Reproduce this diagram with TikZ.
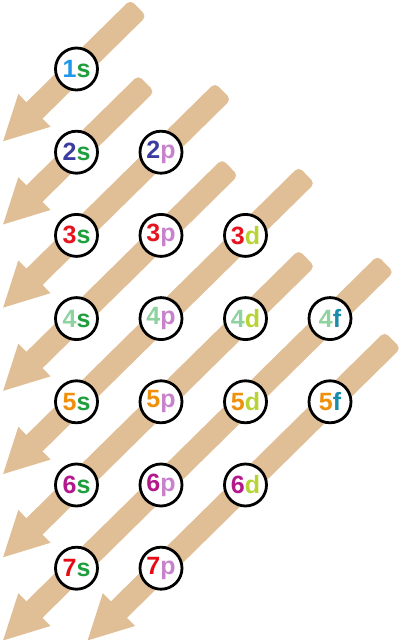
\documentclass[tikz,border=0pt]{standalone}
\usepackage{fontspec}
\setmainfont{Liberation Sans}
\usetikzlibrary{calc,backgrounds}

\definecolor{arrowtan}{HTML}{E0BE96}
\definecolor{shell1}{HTML}{1E96EB}
\definecolor{shell2}{HTML}{3C3CA0}
\definecolor{shell3}{HTML}{E6141E}
\definecolor{shell4}{HTML}{8ED2A0}
\definecolor{shell5}{HTML}{F0900A}
\definecolor{shell6}{HTML}{B4188C}
\definecolor{shell7}{HTML}{E60A14}
\definecolor{subs}{HTML}{1E9E3C}
\definecolor{subp}{HTML}{C882CC}
\definecolor{subd}{HTML}{B8D432}
\definecolor{subf}{HTML}{1A8CAA}

\begin{document}
\begin{tikzpicture}[
    x=1pt, y=1pt,
    orbital/.style={circle, draw, line width=2.8pt, fill=white, minimum size=42pt, inner sep=0pt, font=\fontsize{25}{25}\selectfont\bfseries},
    shaft/.style={fill=arrowtan, rounded corners=5pt},
    head/.style={fill=arrowtan}
]
\useasboundingbox (0,0) rectangle (400,640);

% Orbitals
\foreach \n/\col/\orb in {1/0/s, 2/0/s, 2/1/p, 3/0/s, 3/1/p, 3/2/d, 4/0/s, 4/1/p, 4/2/d, 4/3/f,
                          5/0/s, 5/1/p, 5/2/d, 5/3/f, 6/0/s, 6/1/p, 6/2/d, 7/0/s, 7/1/p}
    \node[orbital] (o\n\orb) at ({76.5+84.5*\col},{571-83.2*(\n-1)}) {\textcolor{shell\n}{\n}\textcolor{sub\orb}{\orb}};

% Arrows (filling order)
\begin{scope}[on background layer]
\foreach \k/\hi/\lo/\len in {1/o1s/o1s/87, 2/o2s/o2s/98, 3/o2p/o3s/87, 4/o3p/o4s/97,
                             5/o3d/o5s/86, 6/o4d/o6s/86, 7/o4f/o7s/78, 8/o5f/o7p/88} {
    \coordinate (top\k) at ($(\hi)+(44.55:\len)$);
    \coordinate (tip\k) at ($(\lo)+(224.55:103)$);
    \coordinate (base\k) at ($(tip\k)!44pt!(top\k)$);
    \coordinate (root\k) at ($(tip\k)!30pt!(top\k)$);
    \fill[head] (tip\k) -- ($(base\k)!23pt!90:(top\k)$) -- ($(base\k)!23pt!-90:(top\k)$) -- cycle;
    \fill[shaft] ($(root\k)!11.5pt!90:(top\k)$) -- ($(top\k)!11.5pt!-90:(root\k)$)
        -- ($(top\k)!11.5pt!90:(root\k)$) -- ($(root\k)!11.5pt!-90:(top\k)$) -- cycle;
}
\end{scope}

\end{tikzpicture}
\end{document}
